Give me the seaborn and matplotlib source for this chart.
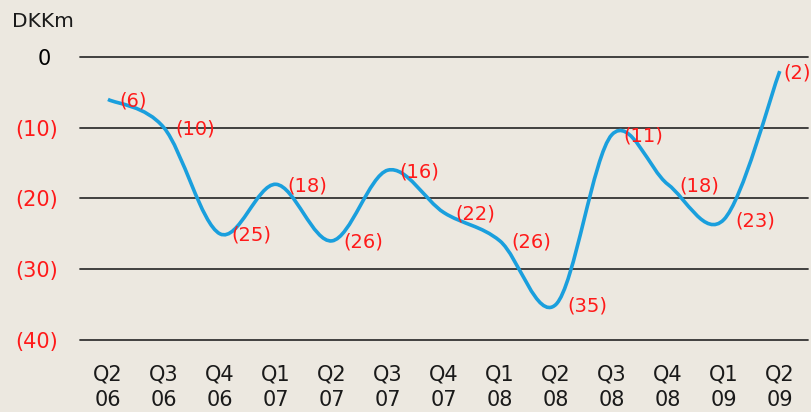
import numpy as np
import matplotlib
matplotlib.use("Agg")
import matplotlib.pyplot as plt
from matplotlib.path import Path
from matplotlib.patches import PathPatch
import seaborn as sns

quarters = ["Q2\n06", "Q3\n06", "Q4\n06", "Q1\n07", "Q2\n07", "Q3\n07", "Q4\n07",
            "Q1\n08", "Q2\n08", "Q3\n08", "Q4\n08", "Q1\n09", "Q2\n09"]
values = [-6, -10, -25, -18, -26, -16, -22, -26, -35, -11, -18, -23, -2]
yticks = [0, -10, -20, -30, -40]
ytick_labels = ["0 ", "(10)", "(20)", "(30)", "(40)"]

bg = "#ece8e0"
blue = "#1a9fdd"
red = "#ff1a1a"

sns.set_style("white")
plt.rcParams["font.family"] = ["DejaVu Sans"]

fig = plt.figure(figsize=(8.11, 4.12), dpi=100, facecolor=bg)
ax = fig.add_axes([0.0986, 0.175, 0.8974, 0.6867])
ax.set_facecolor(bg)

x = np.arange(len(values))
y = np.array(values, dtype=float)

# smooth line through the quarterly points (Catmull-Rom as bezier curves)
px = np.concatenate([[x[0]], x, [x[-1]]])
py = np.concatenate([[y[0]], y, [y[-1]]])
verts = [(x[0], y[0])]
codes = [Path.MOVETO]
for i in range(1, len(px) - 2):
    c1 = (px[i] + (px[i + 1] - px[i - 1]) / 6, py[i] + (py[i + 1] - py[i - 1]) / 6)
    c2 = (px[i + 1] - (px[i + 2] - px[i]) / 6, py[i + 1] - (py[i + 2] - py[i]) / 6)
    verts += [c1, c2, (px[i + 1], py[i + 1])]
    codes += [Path.CURVE4] * 3
ax.add_patch(PathPatch(Path(verts, codes), facecolor="none", edgecolor=blue,
                       lw=2.6, capstyle="butt", zorder=3, clip_on=False))

for i, (xi, v) in enumerate(zip(x, values)):
    dx = 2.5 if i == len(values) - 1 else 8.5
    ax.annotate(f"({abs(v)})", (xi, v), xytext=(dx, -1), textcoords="offset points",
                ha="left", va="center", color=red, fontsize=14, zorder=4)

ax.set_xlim(-0.5, 12.5)
ax.set_ylim(-40, 0)
ax.set_xticks(x)
ax.set_xticklabels(quarters, fontsize=15, linespacing=1.3)
ax.set_yticks(yticks)
ax.set_yticklabels(ytick_labels, fontsize=15)
for i, lbl in enumerate(ax.get_yticklabels()):
    lbl.set_color("black" if i == 0 else red)
for lbl in ax.get_xticklabels():
    lbl.set_color("#1a1a1a")
ax.tick_params(axis="both", length=0)
ax.tick_params(axis="y", pad=16)
ax.tick_params(axis="x", pad=18)

ax.grid(axis="y", color="#333333", lw=1.3)
ax.grid(axis="x", visible=False)
for gl in ax.get_ygridlines():
    gl.set_clip_on(False)
sns.despine(ax=ax, left=True, bottom=True)

fig.text(0.015, 0.947, "DKKm", fontsize=14.5, ha="left", va="center", color="#1a1a1a")

fig.savefig("out.png", dpi=100, facecolor=bg)
